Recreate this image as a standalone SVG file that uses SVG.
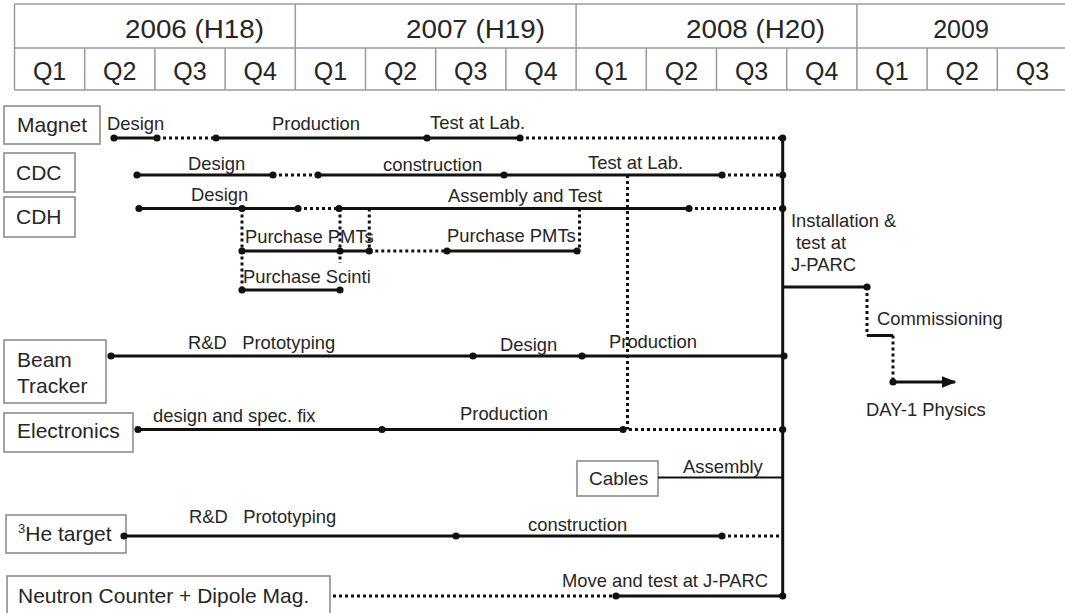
<svg xmlns="http://www.w3.org/2000/svg" xmlns:xlink="http://www.w3.org/1999/xlink" width="1065" height="613" viewBox="0 0 1065 613">
<style>
text{font-family:"Liberation Sans",Arial,sans-serif;fill:#262626}
.hd{stroke:#9a9a9a;stroke-width:1.5;fill:none}
.yr{font-size:25px}
.q{font-size:25px;text-anchor:middle}
.box{fill:#fff;stroke:#8c8c8c;stroke-width:1.6}
.bl{font-size:21px}
.lb{font-size:18.4px}
.s{stroke:#111;stroke-width:3;fill:none}
.t{stroke:#111;stroke-width:2.2;fill:none}
.d{stroke:#111;stroke-width:3;stroke-dasharray:3 3;fill:none}
.dot{fill:#111}
</style>
<defs>
<circle id="p" r="3.6" class="dot"/>
<marker id="ah" viewBox="0 0 10 10" refX="9" refY="5" markerWidth="5" markerHeight="5" orient="auto" markerUnits="strokeWidth"><path d="M0,1 L10,5 L0,9 z" fill="#111"/></marker>
</defs>

<g id="header">
<path class="hd" d="M14.5,4 H1065 M14.5,48 H1065 M14.5,90 H1065 M14.5,4 V90 M295.3,4 V90 M576.1,4 V90 M856.9,4 V90
M84.7,48 V90 M154.9,48 V90 M225.1,48 V90 M365.5,48 V90 M435.7,48 V90 M505.9,48 V90 M646.3,48 V90 M716.5,48 V90 M786.7,48 V90 M927.1,48 V90 M997.3,48 V90"/>
<text class="yr" x="264" y="38" text-anchor="end" textLength="139" lengthAdjust="spacingAndGlyphs">2006 (H18)</text>
<text class="yr" x="545" y="38" text-anchor="end" textLength="139" lengthAdjust="spacingAndGlyphs">2007 (H19)</text>
<text class="yr" x="825" y="38" text-anchor="end" textLength="139" lengthAdjust="spacingAndGlyphs">2008 (H20)</text>
<text class="yr" x="961" y="38" text-anchor="middle">2009</text>
<text class="q" x="49.6" y="80">Q1</text>
<text class="q" x="119.8" y="80">Q2</text>
<text class="q" x="190" y="80">Q3</text>
<text class="q" x="260.2" y="80">Q4</text>
<text class="q" x="330.4" y="80">Q1</text>
<text class="q" x="400.6" y="80">Q2</text>
<text class="q" x="470.8" y="80">Q3</text>
<text class="q" x="541" y="80">Q4</text>
<text class="q" x="611.2" y="80">Q1</text>
<text class="q" x="681.4" y="80">Q2</text>
<text class="q" x="751.6" y="80">Q3</text>
<text class="q" x="821.8" y="80">Q4</text>
<text class="q" x="892" y="80">Q1</text>
<text class="q" x="962.2" y="80">Q2</text>
<text class="q" x="1032.4" y="80">Q3</text>
</g>

<g id="node-magnet"><rect class="box" x="4" y="106" width="96" height="38"/><text class="bl" x="17" y="132">Magnet</text></g>
<g id="node-cdc"><rect class="box" x="4" y="153" width="71" height="39"/><text class="bl" x="16" y="180">CDC</text></g>
<g id="node-cdh"><rect class="box" x="4" y="197" width="71" height="40"/><text class="bl" x="16" y="224">CDH</text></g>
<g id="node-beam"><rect class="box" x="4" y="340" width="102" height="63"/><text class="bl" x="17" y="367">Beam</text><text class="bl" x="17" y="393">Tracker</text></g>
<g id="node-electronics"><rect class="box" x="4" y="413" width="129" height="39"/><text class="bl" x="17" y="438">Electronics</text></g>
<g id="node-cables"><rect class="box" x="577" y="461" width="81" height="35"/><text class="bl" x="589" y="485" style="font-size:19px">Cables</text></g>
<g id="node-he"><rect class="box" x="6" y="515" width="120" height="38"/><text class="bl" x="18" y="541"><tspan font-size="13" dy="-8">3</tspan><tspan dy="8">He target</tspan></text></g>
<g id="node-neutron"><rect class="box" x="7" y="576" width="323" height="40"/><text class="bl" x="18" y="603">Neutron Counter + Dipole Mag.</text></g>

<g id="connectors">
<!-- main vertical -->
<path class="s" d="M782.7,138 V596"/>
<!-- Magnet -->
<path class="s" d="M114,138 H157 M216,138 H520"/>
<path class="d" d="M157,138 H216 M520,138 H782.7"/>
<!-- CDC -->
<path class="s" d="M137,175 H273 M318,175 H722"/>
<path class="d" d="M273,175 H318 M722,175 H782.7"/>
<!-- CDH -->
<path class="s" d="M139,208.5 H298 M339,208.5 H689"/>
<path class="d" d="M298,208.5 H339 M689,208.5 H782.7"/>
<!-- verticals -->
<path class="d" d="M242,208.5 V290 M340,208.5 V263 M369.3,208.5 V251 M579.5,208.5 V251 M627.5,175 V429.5"/>
<!-- PMT -->
<path class="s" d="M242,251 H369.3 M447,251 H577"/>
<path class="d" d="M369.3,251 H447"/>
<path class="s" d="M242,290 H340"/>
<!-- Beam -->
<path class="s" d="M111,356 H782.7"/>
<!-- Electronics -->
<path class="s" d="M138,429.5 H623"/>
<path class="d" d="M623,429.5 H782.7"/>
<!-- Cables -->
<path class="t" d="M658,477.5 H782.7"/>
<!-- He -->
<path class="s" d="M124,536 H722"/>
<path class="d" d="M722,536 H782.7"/>
<!-- Neutron -->
<path class="d" d="M333,596 H616"/>
<path class="s" d="M616,596 H782.7"/>
<!-- installation -->
<path class="s" d="M782.7,287 H867"/>
<path class="d" d="M867,287 V335.5 M893,335.5 V382"/>
<path class="s" d="M867,335.5 H893"/>
<path class="s" d="M893,382 H955" marker-end="url(#ah)"/>
<!-- dots -->
<use xlink:href="#p" x="114" y="138"/><use xlink:href="#p" x="157" y="138"/><use xlink:href="#p" x="216" y="138"/><use xlink:href="#p" x="427" y="138"/><use xlink:href="#p" x="520" y="138"/><use xlink:href="#p" x="782.7" y="138"/>
<use xlink:href="#p" x="137" y="175"/><use xlink:href="#p" x="273" y="175"/><use xlink:href="#p" x="318" y="175"/><use xlink:href="#p" x="504" y="175"/><use xlink:href="#p" x="722" y="175"/><use xlink:href="#p" x="782.7" y="175"/>
<use xlink:href="#p" x="139" y="208.5"/><use xlink:href="#p" x="242" y="208.5"/><use xlink:href="#p" x="298" y="208.5"/><use xlink:href="#p" x="339" y="208.5"/><use xlink:href="#p" x="689" y="208.5"/><use xlink:href="#p" x="782.7" y="208.5"/>
<use xlink:href="#p" x="242" y="251"/><use xlink:href="#p" x="340" y="251"/><use xlink:href="#p" x="369.3" y="251"/><use xlink:href="#p" x="447" y="251"/><use xlink:href="#p" x="577" y="251"/>
<use xlink:href="#p" x="242" y="290"/><use xlink:href="#p" x="340" y="290"/>
<use xlink:href="#p" x="111" y="356"/><use xlink:href="#p" x="473" y="356"/><use xlink:href="#p" x="582" y="356"/><use xlink:href="#p" x="784" y="356"/>
<use xlink:href="#p" x="138" y="429.5"/><use xlink:href="#p" x="382" y="429.5"/><use xlink:href="#p" x="623" y="429.5"/><use xlink:href="#p" x="782.7" y="429.5"/>
<use xlink:href="#p" x="124" y="536"/><use xlink:href="#p" x="456" y="536"/><use xlink:href="#p" x="722" y="536"/>
<use xlink:href="#p" x="616" y="596"/><use xlink:href="#p" x="782.7" y="596"/>
<use xlink:href="#p" x="867" y="287"/><use xlink:href="#p" x="893" y="382"/>
</g>

<g id="labels">
<text class="lb" x="107" y="130">Design</text>
<text class="lb" x="272" y="130">Production</text>
<text class="lb" x="430" y="129">Test at Lab.</text>
<text class="lb" x="188" y="170">Design</text>
<text class="lb" x="383" y="171">construction</text>
<text class="lb" x="588" y="169">Test at Lab.</text>
<text class="lb" x="191" y="201">Design</text>
<text class="lb" x="448" y="202">Assembly and Test</text>
<text class="lb" x="245" y="243">Purchase PMTs</text>
<text class="lb" x="447" y="242">Purchase PMTs</text>
<text class="lb" x="243" y="283">Purchase Scinti</text>
<text class="lb" x="188" y="349" xml:space="preserve">R&amp;D   Prototyping</text>
<text class="lb" x="500" y="351">Design</text>
<text class="lb" x="609" y="348">Production</text>
<text class="lb" x="153" y="422">design and spec. fix</text>
<text class="lb" x="460" y="420">Production</text>
<text class="lb" x="683" y="473">Assembly</text>
<text class="lb" x="189" y="523" xml:space="preserve">R&amp;D   Prototyping</text>
<text class="lb" x="528" y="531">construction</text>
<text class="lb" x="562" y="587">Move and test at J-PARC</text>
<text class="lb" x="791" y="227">Installation &amp;</text>
<text class="lb" x="796" y="249">test at</text>
<text class="lb" x="791" y="271">J-PARC</text>
<text class="lb" x="877" y="325">Commissioning</text>
<text class="lb" x="866" y="416">DAY-1 Physics</text>
</g>
</svg>
